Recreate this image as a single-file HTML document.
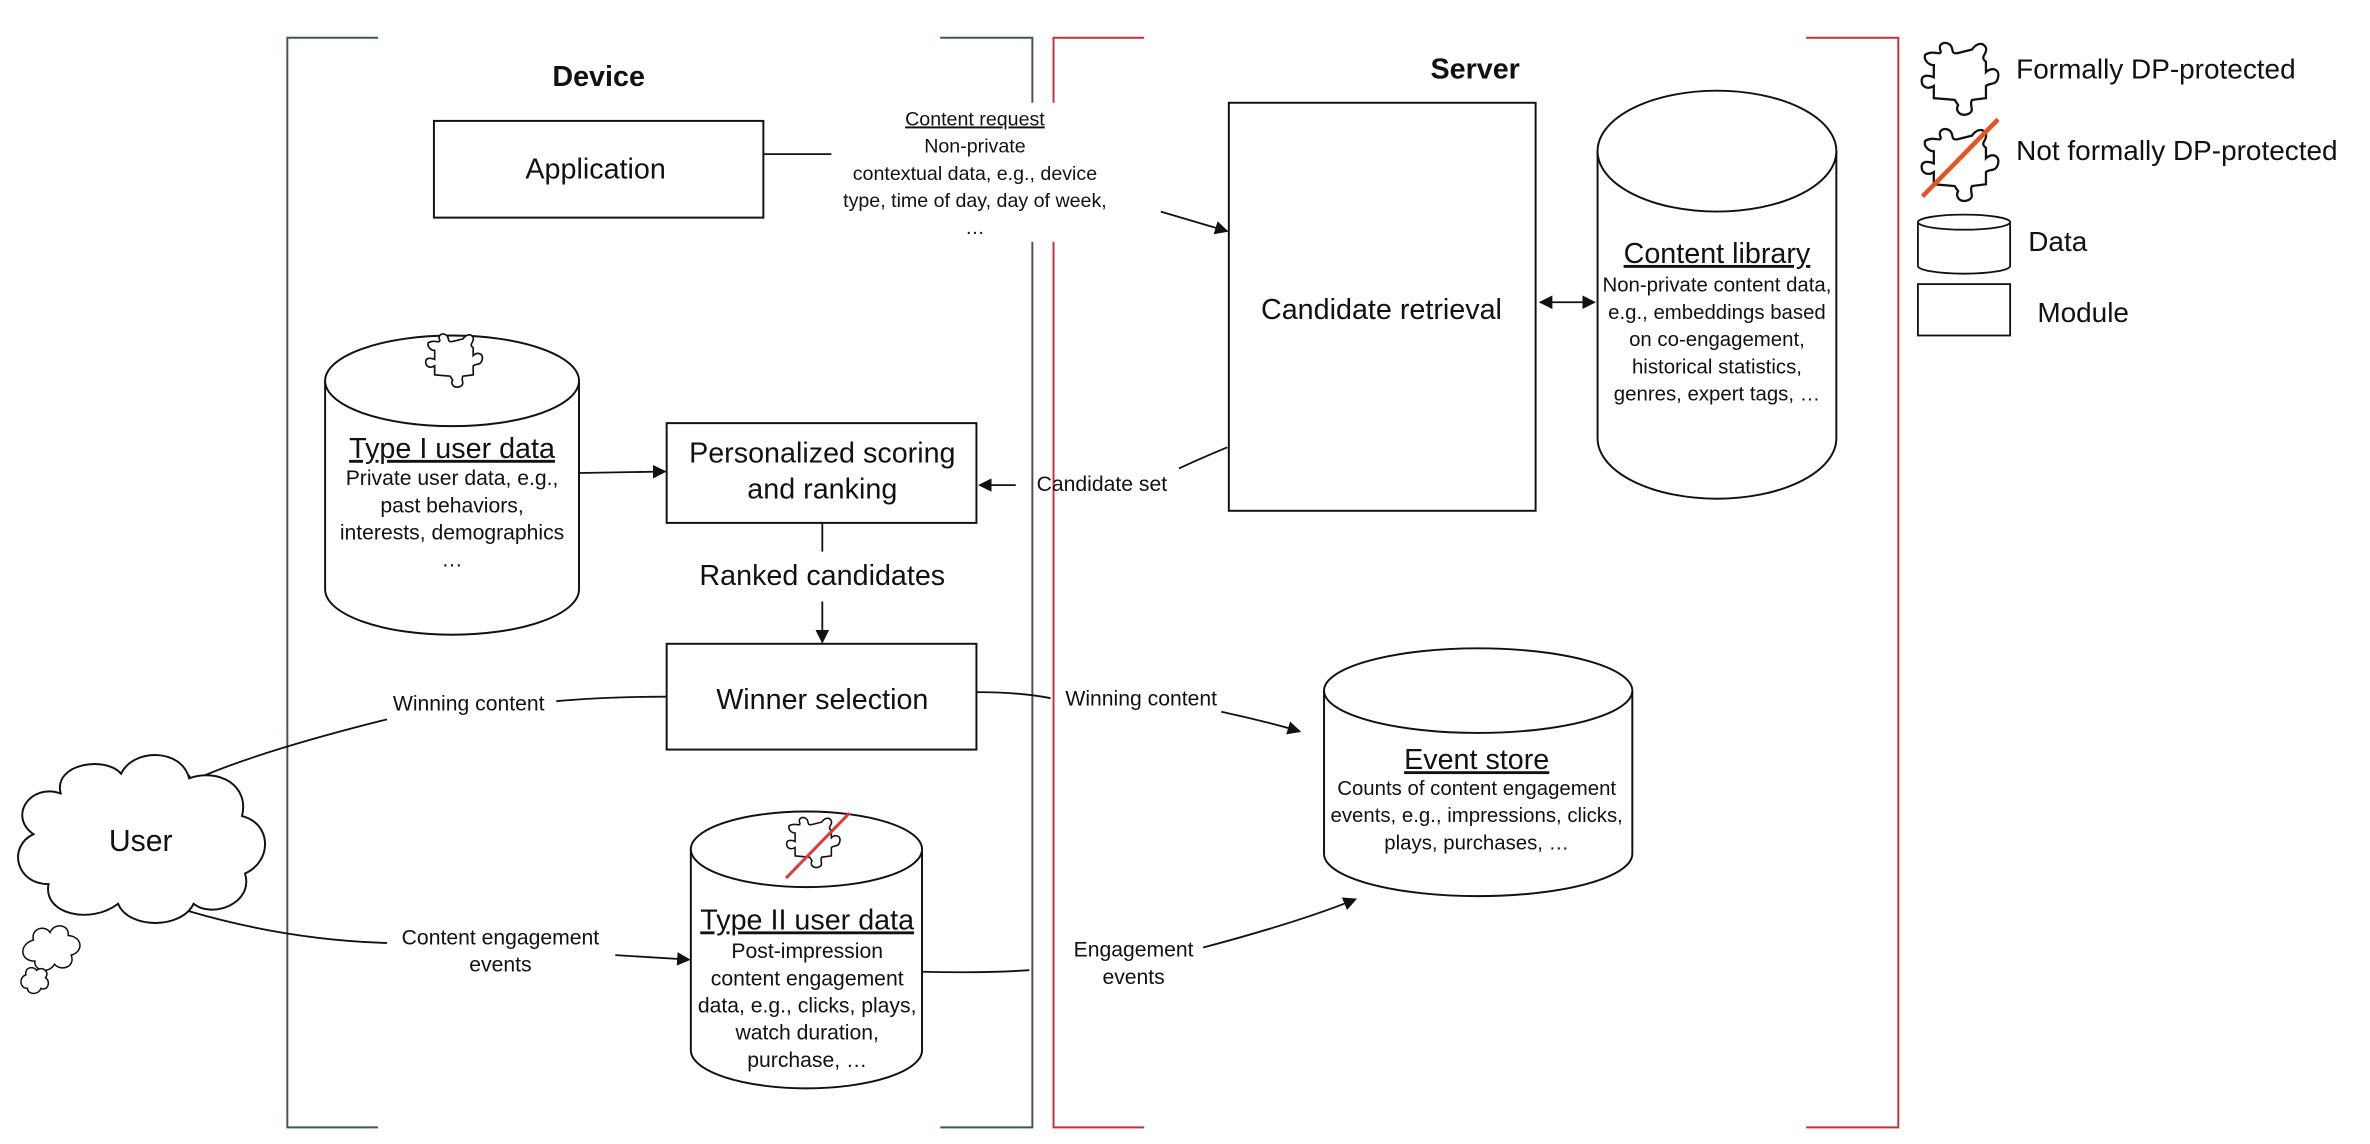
<!DOCTYPE html>
<html><head><meta charset="utf-8">
<style>
html,body{margin:0;padding:0;background:#fff;}
svg{display:block;}
text{font-family:"Liberation Sans",Arial,sans-serif;fill:#111;}
</style></head>
<body>
<svg width="2370" height="1144" viewBox="0 0 1568 757" xmlns="http://www.w3.org/2000/svg">
<defs>
<marker id="ah" viewBox="0 0 10 10" refX="9" refY="5" markerWidth="9" markerHeight="9" orient="auto-start-reverse" markerUnits="userSpaceOnUse">
<path d="M0,0 L10,5 L0,10 z" fill="#111"/>
</marker>
<path id="pz" d="M5,8 C10,5 14,9 14,6 C12,2 16,0 19,2 C22,4 19,8 24,7 L32,5 C34,2 38,0 40,4 C41,8 36,9 40,12 L40,18 C43,15 48,16 47,21 C46,26 42,24 40,26 L40,33 L32,34 C30,37 34,40 30,42 C25,44 22,40 24,37 L22,34 L10,33 L10,26 C7,28 3,27 3,23 C3,19 8,20 10,21 L10,14 C7,14 4,11 5,8 Z" fill="#fff" stroke="#111" stroke-width="1.3"/>
</defs>

<g fill="none" stroke="#3f5656" stroke-width="1.3">
<polyline points="250,25 190,25 190,746 250,746"/>
<polyline points="622,25 683,25 683,746 622,746"/>
</g>
<g fill="none" stroke="#c8303a" stroke-width="1.3">
<polyline points="757,25 697,25 697,746 757,746"/>
<polyline points="1195,25 1256,25 1256,746 1195,746"/>
</g>

<text x="396" y="57" font-size="19" font-weight="bold" text-anchor="middle">Device</text>
<text x="976" y="52" font-size="19" font-weight="bold" text-anchor="middle">Server</text>

<rect x="287" y="80" width="218" height="64" fill="#fff" stroke="#111" stroke-width="1.3"/>
<text x="394" y="118" font-size="19" text-anchor="middle">Application</text>
<line x1="505" y1="102" x2="550" y2="102" stroke="#111" stroke-width="1.2"/>

<rect x="553" y="68" width="185" height="92" fill="#fff"/>
<g font-size="13" text-anchor="middle">
<text x="645" y="83" text-decoration="underline">Content request</text>
<text x="645" y="101">Non-private</text>
<text x="645" y="119">contextual data, e.g., device</text>
<text x="645" y="137">type, time of day, day of week,</text>
<text x="645" y="155">…</text>
</g>
<line x1="768" y1="140" x2="812" y2="153" stroke="#111" stroke-width="1.2" marker-end="url(#ah)"/>

<rect x="813" y="68" width="203" height="270" fill="#fff" stroke="#111" stroke-width="1.3"/>
<text x="914" y="211" font-size="19" text-anchor="middle">Candidate retrieval</text>
<line x1="1019" y1="200" x2="1055" y2="200" stroke="#111" stroke-width="1.2" marker-start="url(#ah)" marker-end="url(#ah)"/>

<path d="M1057,100 L1057,290 A79,40 0 0 0 1215,290 L1215,100" fill="#fff" stroke="#111" stroke-width="1.3"/>
<ellipse cx="1136" cy="100" rx="79" ry="40" fill="#fff" stroke="#111" stroke-width="1.3"/>
<text x="1136" y="174" font-size="19" text-anchor="middle" text-decoration="underline">Content library</text>
<g font-size="13.5" text-anchor="middle">
<text x="1136" y="193">Non-private content data,</text>
<text x="1136" y="211">e.g., embeddings based</text>
<text x="1136" y="229">on co-engagement,</text>
<text x="1136" y="247">historical statistics,</text>
<text x="1136" y="265">genres, expert tags, …</text>
</g>

<use href="#pz" transform="translate(1268,27) scale(1.15)"/>
<text x="1334" y="52" font-size="18.5">Formally DP-protected</text>
<use href="#pz" transform="translate(1268,84) scale(1.15)"/>
<line x1="1272" y1="130" x2="1322" y2="79" stroke="#e55322" stroke-width="3"/>
<text x="1334" y="106" font-size="18.5">Not formally DP-protected</text>
<path d="M1269,147 L1269,176 A30,5 0 0 0 1330,176 L1330,147" fill="#fff" stroke="#111" stroke-width="1.2"/>
<ellipse cx="1299.5" cy="147" rx="30.5" ry="5" fill="#fff" stroke="#111" stroke-width="1.2"/>
<text x="1342" y="166" font-size="18.5">Data</text>
<rect x="1269" y="188" width="61" height="34" fill="#fff" stroke="#111" stroke-width="1.2"/>
<text x="1348" y="213" font-size="18.5">Module</text>

<path d="M215,252 L215,390 A84,30 0 0 0 383,390 L383,252" fill="#fff" stroke="#111" stroke-width="1.3"/>
<ellipse cx="299" cy="252" rx="84" ry="30" fill="#fff" stroke="#111" stroke-width="1.3"/>
<use href="#pz" transform="translate(279,220) scale(0.85)"/>
<text x="299" y="303" font-size="19" text-anchor="middle" text-decoration="underline">Type I user data</text>
<g font-size="14" text-anchor="middle">
<text x="299" y="321">Private user data, e.g.,</text>
<text x="299" y="339">past behaviors,</text>
<text x="299" y="357">interests, demographics</text>
<text x="299" y="375">…</text>
</g>
<line x1="383" y1="313" x2="440" y2="312" stroke="#111" stroke-width="1.2" marker-end="url(#ah)"/>

<rect x="441" y="280" width="205" height="66" fill="#fff" stroke="#111" stroke-width="1.3"/>
<text x="544" y="306" font-size="19" text-anchor="middle">Personalized scoring</text>
<text x="544" y="330" font-size="19" text-anchor="middle">and ranking</text>

<path d="M812,296 Q795,303 780,310" fill="none" stroke="#111" stroke-width="1.2"/>
<text x="729" y="325" font-size="14" text-anchor="middle">Candidate set</text>
<line x1="672" y1="321" x2="648" y2="321" stroke="#111" stroke-width="1.2" marker-end="url(#ah)"/>

<line x1="544" y1="346" x2="544" y2="365" stroke="#111" stroke-width="1.2"/>
<text x="544" y="387" font-size="19" text-anchor="middle">Ranked candidates</text>
<line x1="544" y1="398" x2="544" y2="425" stroke="#111" stroke-width="1.2" marker-end="url(#ah)"/>

<rect x="441" y="426" width="205" height="70" fill="#fff" stroke="#111" stroke-width="1.3"/>
<text x="544" y="469" font-size="19" text-anchor="middle">Winner selection</text>

<path d="M441,461 Q400,461 368,464" fill="none" stroke="#111" stroke-width="1.2"/>
<text x="310" y="470" font-size="14" text-anchor="middle">Winning content</text>
<path d="M256,476 Q160,500 120,520" fill="none" stroke="#111" stroke-width="1.2" marker-end="url(#ah)"/>

<path d="M646,458 Q675,458 695,462" fill="none" stroke="#111" stroke-width="1.2"/>
<text x="755" y="467" font-size="14" text-anchor="middle">Winning content</text>
<path d="M808,471 Q840,478 860,484" fill="none" stroke="#111" stroke-width="1.2" marker-end="url(#ah)"/>

<path d="M876,457 L876,565 A102,28 0 0 0 1080,565 L1080,457" fill="#fff" stroke="#111" stroke-width="1.3"/>
<ellipse cx="978" cy="457" rx="102" ry="28" fill="#fff" stroke="#111" stroke-width="1.3"/>
<text x="977" y="509" font-size="19" text-anchor="middle" text-decoration="underline">Event store</text>
<g font-size="13.5" text-anchor="middle">
<text x="977" y="526">Counts of content engagement</text>
<text x="977" y="544">events, e.g., impressions, clicks,</text>
<text x="977" y="562">plays, purchases, …</text>
</g>

<path d="M40,525 C35,505 70,500 80,512 C88,495 120,495 125,515 C145,508 165,520 160,540 C180,545 180,570 162,578 C168,598 140,608 128,598 C120,615 85,615 78,598 C60,612 28,605 32,585 C10,585 5,560 22,552 C5,540 20,518 40,525 Z" fill="#fff" stroke="#111" stroke-width="1.3"/>
<text x="93" y="563" font-size="20" text-anchor="middle">User</text>
<path d="M22,622 C20,614 30,612 33,617 C36,610 46,612 45,619 C55,620 55,630 47,632 C50,640 40,643 36,638 C32,645 22,642 23,636 C13,636 12,625 22,622 Z" fill="#fff" stroke="#111" stroke-width="1"/>
<path d="M17,645 C16,640 22,639 24,642 C28,639 33,643 30,647 C34,650 31,656 27,654 C25,659 18,658 18,654 C13,654 12,647 17,645 Z" fill="#fff" stroke="#111" stroke-width="1"/>

<path d="M125,603 Q190,622 256,624" fill="none" stroke="#111" stroke-width="1.2"/>
<g font-size="14" text-anchor="middle">
<text x="331" y="625">Content engagement</text>
<text x="331" y="643">events</text>
</g>
<line x1="407" y1="632" x2="456" y2="635" stroke="#111" stroke-width="1.2" marker-end="url(#ah)"/>

<path d="M457,562 L457,695 A76,25 0 0 0 610,695 L610,562" fill="#fff" stroke="#111" stroke-width="1.3"/>
<ellipse cx="533.5" cy="562" rx="76.5" ry="25" fill="#fff" stroke="#111" stroke-width="1.3"/>
<use href="#pz" transform="translate(518,540) scale(0.8)"/>
<line x1="520" y1="581" x2="562" y2="538" stroke="#e03a3a" stroke-width="2"/>
<text x="534" y="615" font-size="19" text-anchor="middle" text-decoration="underline">Type II user data</text>
<g font-size="14" text-anchor="middle">
<text x="534" y="634">Post-impression</text>
<text x="534" y="652">content engagement</text>
<text x="534" y="670">data, e.g., clicks, plays,</text>
<text x="534" y="688">watch duration,</text>
<text x="534" y="706">purchase, …</text>
</g>

<path d="M610,643 Q650,644 681,642" fill="none" stroke="#111" stroke-width="1.2"/>
<g font-size="14" text-anchor="middle">
<text x="750" y="633">Engagement</text>
<text x="750" y="651">events</text>
</g>
<path d="M796,627 Q860,610 897,595" fill="none" stroke="#111" stroke-width="1.2" marker-end="url(#ah)"/>
</svg>
</body></html>
